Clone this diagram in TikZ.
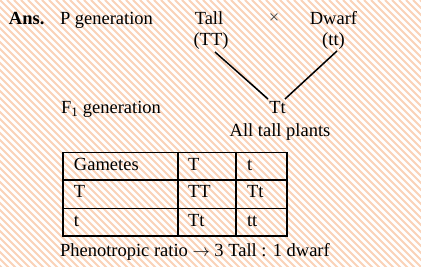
\documentclass[tikz,border=0pt]{standalone}
\usepackage{fontspec}
\setmainfont{Liberation Serif}
\definecolor{stripe}{RGB}{250,210,184}
\definecolor{xgray}{RGB}{70,70,70}
\tikzset{
  txt/.style={inner sep=0pt, outer sep=0pt, font=\fontsize{18.5}{22}\selectfont},
  lt/.style={txt, anchor=base west},
  ct/.style={txt, anchor=base},
  cross/.style={line width=1.5pt, black},
  grid/.style={line width=1.3pt, black}
}
\begin{document}
\begin{tikzpicture}[x=1pt,y=-1pt]
\useasboundingbox (0,0) rectangle (421,267);
\fill[white] (0,0) rectangle (421,267);
\begin{scope}
\clip (0,0) rectangle (421,267);
\foreach \i in {-280,-273,...,430} \draw[stripe, line width=2pt] (\i,0) -- ++(280,280);
\end{scope}
% header
\node[lt, font=\bfseries\fontsize{18.5}{22}\selectfont] (ans) at (9,25) {Ans.};
\node[lt] (pgen) at (60,25) {P generation};
\node[ct] (tall) at (209,25) {Tall};
\node[ct, text=xgray] (x) at (274,23.5) {×};
\node[ct] (dwarf) at (333.5,25) {Dwarf};
\node[ct] (TT) at (211,46) {(TT)};
\node[ct] (tt) at (333.5,46) {(tt)};
\coordinate (a1) at (215,52);
\coordinate (a2) at (337,51);
\node[lt] (f1) at (61,114) {F\textsubscript{1} generation};
\node[ct] (Tt) at (277.5,114) {Tt};
\node[ct] (all) at (280,137) {All tall plants};
\coordinate (b1) at (268,99);
\coordinate (b2) at (285,99);
\draw[cross] (a1) -- (b1);
\draw[cross] (a2) -- (b2);
% table
\draw[grid] (63,152.7) rectangle (287,236);
\draw[grid] (178,152.7) -- (178,236);
\draw[grid] (236,152.7) -- (236,236);
\draw[grid] (63,180) -- (287,180);
\draw[grid] (63,208.7) -- (287,208.7);
\node[lt] (g) at (74,170.5) {Gametes};
\node[lt] (c12) at (188,170.5) {T};
\node[lt] (c13) at (247,170.5) {t};
\node[lt] (c21) at (74,198) {T};
\node[lt] (c22) at (188,198) {TT};
\node[lt] (c23) at (247,198) {Tt};
\node[lt] (c31) at (74,226.5) {t};
\node[lt] (c32) at (188,226.5) {Tt};
\node[lt] (c33) at (247,226.5) {tt};
\node[lt] (ratio) at (60,256.5) {Phenotropic ratio $\rightarrow$ 3 Tall : 1 dwarf};
\end{tikzpicture}
\end{document}
